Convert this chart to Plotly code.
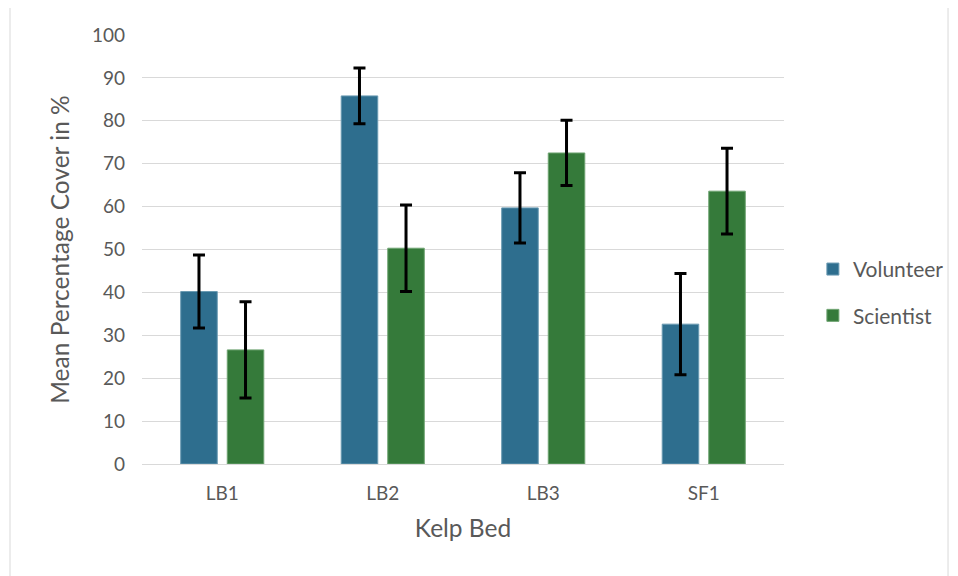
import plotly.graph_objects as go

categories = ["LB1", "LB2", "LB3", "SF1"]
volunteer = [40.2, 85.8, 59.7, 32.6]
volunteer_err = [8.5, 6.5, 8.2, 11.8]
scientist = [26.6, 50.3, 72.5, 63.6]
scientist_err = [11.2, 10.1, 7.6, 10.0]

font_family = "Lato, 'Open Sans', sans-serif"
txt = "#595959"

fig = go.Figure()
fig.add_trace(go.Bar(
    name="Volunteer", x=categories, y=volunteer, legendgroup="v",
    marker=dict(color="#2E6E8E", line=dict(color="#6A9AB2", width=1)),
    error_y=dict(type="data", array=volunteer_err, color="black", thickness=3, width=6),
))
fig.add_trace(go.Bar(
    name="Scientist", x=categories, y=scientist, legendgroup="s",
    marker=dict(color="#357A3A", line=dict(color="#6FA472", width=1)),
    error_y=dict(type="data", array=scientist_err, color="black", thickness=3, width=6),
))

fig.update_layout(
    width=950, height=568,
    margin=dict(l=134, r=174, t=27, b=112, autoexpand=False),
    barmode="group", bargap=0.42, bargroupgap=0.215,
    plot_bgcolor="white", paper_bgcolor="white",
    font=dict(family=font_family, color=txt, size=19),
    legend=dict(x=1.045, y=0.40, yanchor="middle", xanchor="left",
                font=dict(size=21, color=txt), tracegroupgap=16,
                traceorder="grouped", bgcolor="rgba(0,0,0,0)"),
    xaxis=dict(
        title=dict(text="Kelp Bed", font=dict(size=24.5, color=txt), standoff=17),
        showline=True, linecolor="#D9D9D9", linewidth=1,
        tickfont=dict(size=19, color=txt), ticks="", ticklabelstandoff=12,
    ),
    yaxis=dict(
        title=dict(text="Mean Percentage Cover in %", font=dict(size=24.5, color=txt), standoff=15),
        range=[0, 100], dtick=10, tick0=0,
        showgrid=True, gridcolor="#D9D9D9", gridwidth=1,
        zeroline=False, tickfont=dict(size=19, color=txt), ticks="",
        ticklabelstandoff=16,
    ),
    shapes=[dict(type="rect", xref="paper", yref="paper",
                 x0=-0.2056, x1=1.2555, y0=-0.27, y1=1.0769,
                 line=dict(color="#D9D9D9", width=1), layer="below")],
)

fig.write_html("out.html")
